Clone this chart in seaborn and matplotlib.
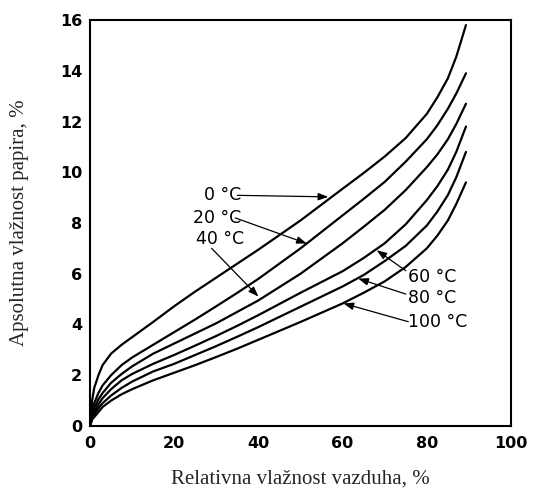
import numpy as np
import pandas as pd
import seaborn as sns
import matplotlib
matplotlib.use("Agg")
import matplotlib.pyplot as plt

# Relative humidity of air, % (x)
rh = [0, 0.5, 1, 2, 3, 5, 7.5, 10, 15, 20, 25, 30, 35, 40, 50, 60, 65, 70, 75, 80, 82.5, 85, 87, 89.3]

# Absolute paper moisture, % for each temperature
m_0 = [0, 1.0, 1.5, 2.0, 2.4, 2.85, 3.2, 3.5, 4.1, 4.72, 5.3, 5.85, 6.4, 6.95, 8.1, 9.35, 9.97, 10.62, 11.35, 12.3, 12.95, 13.7, 14.55, 15.8]
m_20 = [0, 0.6, 0.9, 1.3, 1.6, 2.0, 2.4, 2.7, 3.2, 3.7, 4.2, 4.72, 5.25, 5.8, 7.0, 8.3, 8.95, 9.62, 10.42, 11.3, 11.85, 12.5, 13.1, 13.9]
m_40 = [0, 0.45, 0.7, 1.05, 1.3, 1.7, 2.05, 2.35, 2.85, 3.25, 3.65, 4.05, 4.5, 4.95, 6.0, 7.2, 7.85, 8.52, 9.3, 10.2, 10.7, 11.3, 11.9, 12.7]
m_60 = [0, 0.35, 0.55, 0.85, 1.1, 1.45, 1.8, 2.05, 2.45, 2.8, 3.17, 3.55, 3.95, 4.37, 5.25, 6.1, 6.62, 7.2, 7.95, 8.9, 9.45, 10.1, 10.8, 11.8]
m_80 = [0, 0.3, 0.45, 0.7, 0.9, 1.2, 1.5, 1.75, 2.15, 2.45, 2.8, 3.15, 3.52, 3.9, 4.7, 5.5, 5.95, 6.5, 7.1, 7.9, 8.45, 9.1, 9.8, 10.8]
m_100 = [0, 0.25, 0.35, 0.55, 0.75, 1.0, 1.25, 1.45, 1.8, 2.1, 2.4, 2.72, 3.05, 3.4, 4.1, 4.83, 5.25, 5.7, 6.27, 7.0, 7.5, 8.1, 8.75, 9.6]

temps = ["0 °C", "20 °C", "40 °C", "60 °C", "80 °C", "100 °C"]
series = [m_0, m_20, m_40, m_60, m_80, m_100]

xticks = [0, 20, 40, 60, 80, 100]
yticks = [0, 2, 4, 6, 8, 10, 12, 14, 16]

# annotation: label, text pos, arrow start, arrow tip, ha
labels = [
    ("0 °C", (36.0, 9.09), (35.0, 9.09), (56.6, 9.03), "right"),
    ("20 °C", (36.0, 8.2), (34.5, 8.2), (51.5, 7.19), "right"),
    ("40 °C", (36.6, 7.36), (28.9, 7.0), (40.0, 5.1), "right"),
    ("60 °C", (75.6, 5.87), (75.0, 6.12), (68.1, 6.93), "left"),
    ("80 °C", (75.6, 5.03), (75.0, 5.2), (63.7, 5.81), "left"),
    ("100 °C", (75.6, 4.11), (75.6, 4.11), (60.2, 4.83), "left"),
]

df = pd.DataFrame({
    "rh": np.tile(rh, len(temps)),
    "m": np.concatenate(series),
    "t": np.repeat(temps, len(rh)),
})

sns.set_style("white")
plt.rcParams["font.family"] = ["DejaVu Sans"]

fig = plt.figure(figsize=(5.35, 4.96), dpi=100)
ax = fig.add_axes([90 / 535, 1 - 426 / 496, 421 / 535, 406 / 496])

sns.lineplot(data=df, x="rh", y="m", hue="t", palette=["black"] * 6,
             legend=False, ax=ax, linewidth=1.6, sort=False, estimator=None)
for ln in ax.get_lines():
    ln.set_solid_joinstyle("round")

ax.set_xlim(0, 100)
ax.set_ylim(0, 16)
ax.set_xticks(xticks)
ax.set_yticks(yticks)
ax.set_xticklabels([str(v) for v in xticks], fontweight="bold", fontsize=11.5)
ax.set_yticklabels([str(v) for v in yticks], fontweight="bold", fontsize=11.5)
ax.tick_params(axis="y", direction="in", length=13.5, width=1.3, pad=5.5, colors="black")
ax.tick_params(axis="x", direction="in", length=11.5, width=1.3, pad=7.5, colors="black")
for s in ax.spines.values():
    s.set_visible(True)
    s.set_color("black")
    s.set_linewidth(1.5)

ax.set_xlabel("Relativna vlažnost vazduha, %", family="Liberation Serif", fontsize=15)
ax.set_ylabel("Apsolutna vlažnost papira, %", family="Liberation Serif", fontsize=15)
ax.xaxis.set_label_coords(0.5, -0.108)
ax.yaxis.set_label_coords(-0.145, 0.5)

for text, tpos, start, tip, ha in labels:
    ax.text(tpos[0], tpos[1], text, ha=ha, va="center", fontsize=12.5, color="black")
    ax.annotate("", xy=tip, xytext=start,
                arrowprops=dict(arrowstyle="-|>,head_length=0.6,head_width=0.22",
                                color="black", lw=0.9, mutation_scale=10,
                                shrinkA=0, shrinkB=0))

fig.savefig("out.png", dpi=100)
